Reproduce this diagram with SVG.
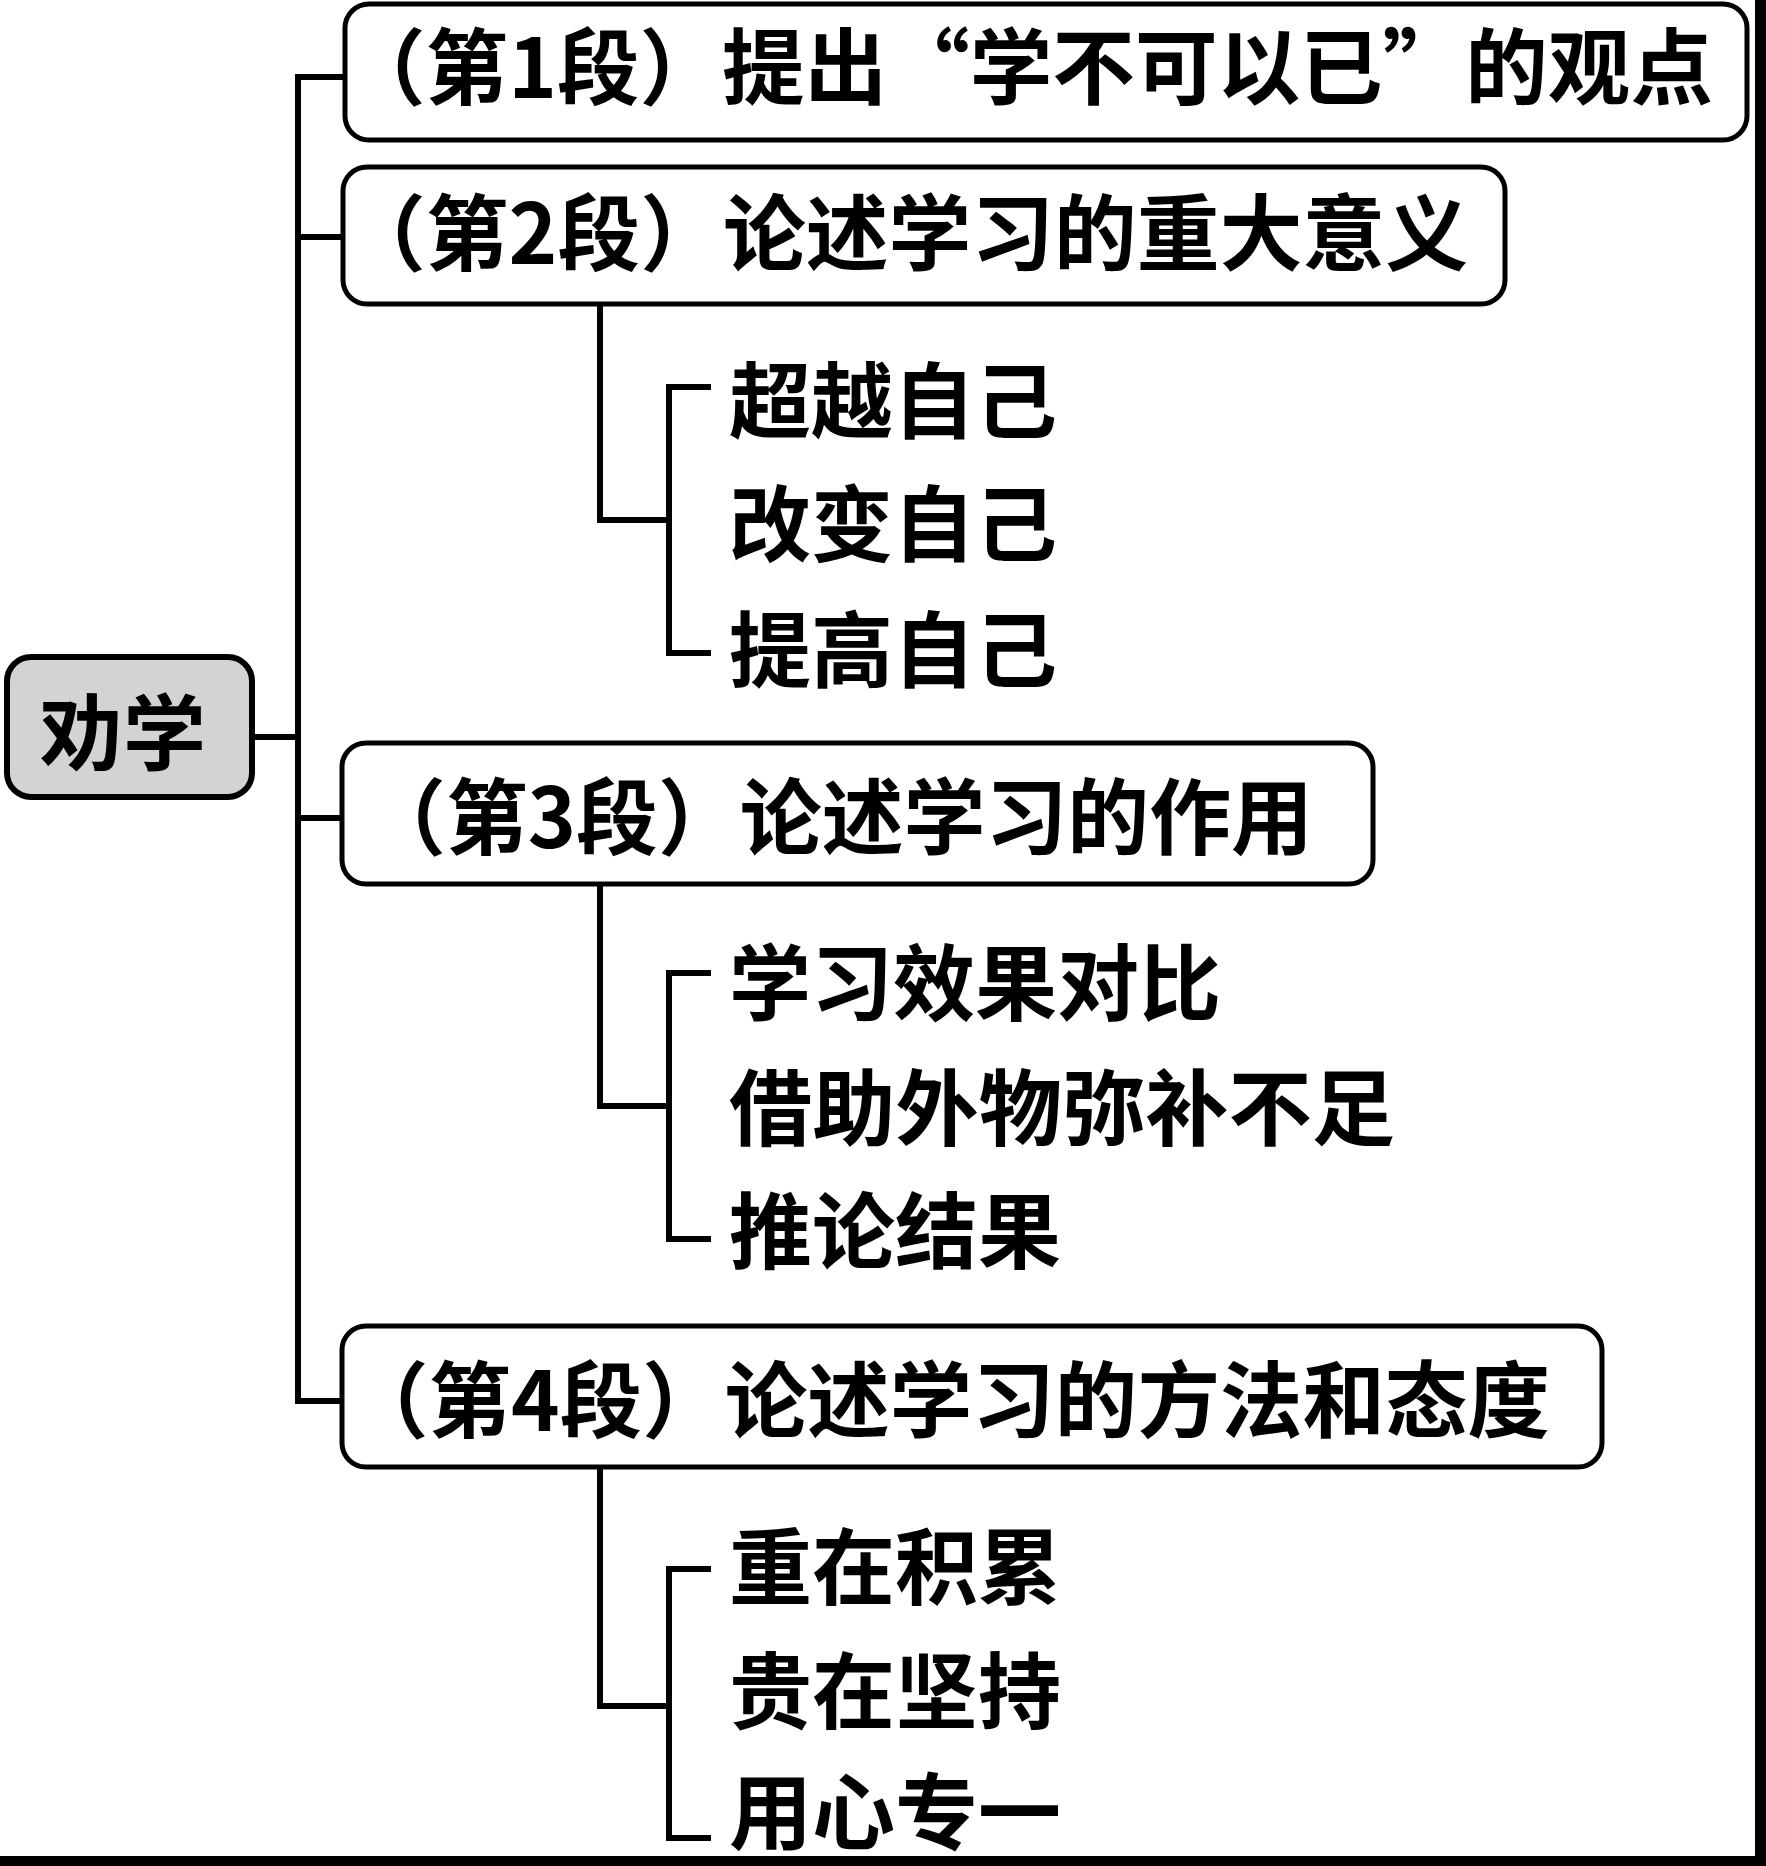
<svg xmlns="http://www.w3.org/2000/svg" width="1766" height="1866" viewBox="0 0 1766 1866">
<style>
.box{fill:#fff;stroke:#000;stroke-width:5}
.root{fill:#d3d3d3;stroke:#000;stroke-width:6}
.t{font-family:"Noto Sans CJK SC","Noto Sans CJK TC",sans-serif;font-size:83px;fill:#000}
.bt{font-weight:600}
.lt{font-weight:700}
.c{fill:none;stroke:#000;stroke-width:6;stroke-linecap:square}
</style>
<rect width="1766" height="1866" fill="#fff"/>
<g id="connectors">
<path class="c" d="M298,77 V1401"/>
<path class="c" d="M252,737 H298"/>
<path class="c" d="M298,77 H345"/>
<path class="c" d="M298,237 H343"/>
<path class="c" d="M298,818 H342"/>
<path class="c" d="M298,1401 H342"/>
<path class="c" d="M600,304 V520 H669"/>
<path class="c" d="M708,387 H669 V653 H708"/>
<path class="c" d="M600,884 V1106 H669"/>
<path class="c" d="M708,973 H669 V1239 H708"/>
<path class="c" d="M600,1467 V1706 H669"/>
<path class="c" d="M708,1569 H669 V1838 H708"/>
</g>
<g id="root">
<rect class="root" x="7" y="657" width="245" height="140" rx="24"/>
<text class="t lt" x="40" y="764" textLength="166" lengthAdjust="spacingAndGlyphs">劝学</text>
</g>
<g id="p1">
<rect class="box" x="345" y="4" width="1402" height="136" rx="24"/>
<text class="t bt" x="343" y="98" textLength="1370" lengthAdjust="spacingAndGlyphs">（第1段）提出“学不可以已”的观点</text>
</g>
<g id="p2">
<rect class="box" x="343" y="167" width="1162" height="137" rx="24"/>
<text class="t bt" x="343" y="264" textLength="1125" lengthAdjust="spacingAndGlyphs">（第2段）论述学习的重大意义</text>
</g>
<g id="p2a"><text class="t lt" x="729" y="432" textLength="328" lengthAdjust="spacingAndGlyphs">超越自己</text></g>
<g id="p2b"><text class="t lt" x="729" y="555" textLength="328" lengthAdjust="spacingAndGlyphs">改变自己</text></g>
<g id="p2c"><text class="t lt" x="729" y="681" textLength="328" lengthAdjust="spacingAndGlyphs">提高自己</text></g>
<g id="p3">
<rect class="box" x="342" y="743" width="1031" height="141" rx="24"/>
<text class="t bt" x="364" y="848" textLength="949" lengthAdjust="spacingAndGlyphs">（第3段）论述学习的作用</text>
</g>
<g id="p3a"><text class="t lt" x="729" y="1014" textLength="492" lengthAdjust="spacingAndGlyphs">学习效果对比</text></g>
<g id="p3b"><text class="t lt" x="729" y="1139" textLength="666" lengthAdjust="spacingAndGlyphs">借助外物弥补不足</text></g>
<g id="p3c"><text class="t lt" x="729" y="1262" textLength="332" lengthAdjust="spacingAndGlyphs">推论结果</text></g>
<g id="p4">
<rect class="box" x="342" y="1326" width="1260" height="141" rx="24"/>
<text class="t bt" x="346" y="1431" textLength="1204" lengthAdjust="spacingAndGlyphs">（第4段）论述学习的方法和态度</text>
</g>
<g id="p4a"><text class="t lt" x="729" y="1598" textLength="332" lengthAdjust="spacingAndGlyphs">重在积累</text></g>
<g id="p4b"><text class="t lt" x="729" y="1722" textLength="332" lengthAdjust="spacingAndGlyphs">贵在坚持</text></g>
<g id="p4c"><text class="t lt" x="729" y="1843" textLength="332" lengthAdjust="spacingAndGlyphs">用心专一</text></g>
<rect x="1755" y="0" width="11" height="1866" fill="#000"/>
<rect x="0" y="1856" width="1766" height="10" fill="#000"/>
</svg>
